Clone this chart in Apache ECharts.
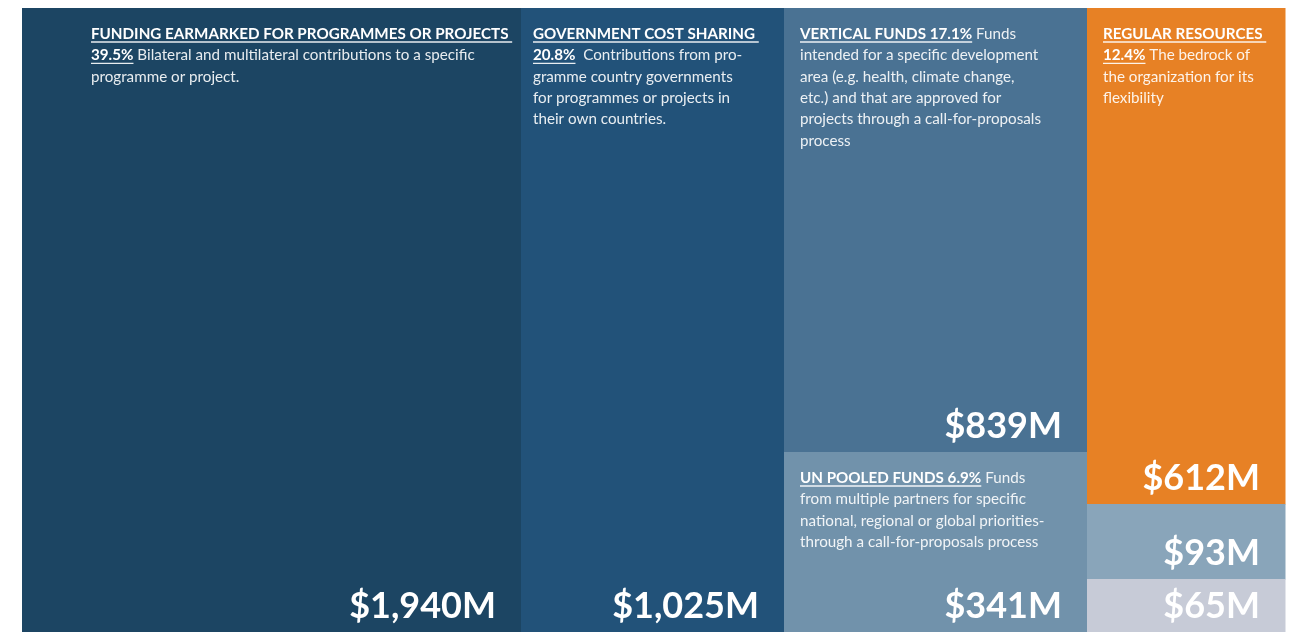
<!DOCTYPE html>
<html>
<head>
<meta charset="utf-8">
<script src="https://cdn.jsdelivr.net/npm/echarts@6/dist/echarts.min.js"></script>
<style>
html, body { margin: 0; padding: 0; background: #fff; }
#chart { width: 1297px; height: 632px; }
</style>
</head>
<body>
<div id="chart"></div>
<script>
// funding blocks, in reading order
const titles = ['FUNDING EARMARKED FOR PROGRAMMES OR PROJECTS', 'GOVERNMENT COST SHARING', 'VERTICAL FUNDS', 'UN POOLED FUNDS', 'REGULAR RESOURCES', '', ''];
const shares = ['39.5%', '20.8%', '17.1%', '6.9%', '12.4%', '', ''];
const amounts = [1940, 1025, 839, 341, 612, 93, 65];
const amountLabels = ['$1,940M', '$1,025M', '$839M', '$341M', '$612M', '$93M', '$65M'];
const columns = [0, 1, 2, 2, 3, 3, 3];
const notes = [
    ['Bilateral and multilateral contributions to a specific', 'programme or project.'],
    [' Contributions from pro-', 'gramme country governments', 'for programmes or projects in', 'their own countries.'],
    ['Funds', 'intended for a specific development', 'area (e.g. health, climate change,', 'etc.) and that are approved for', 'projects through a call-for-proposals', 'process'],
    ['Funds', 'from multiple partners for specific', 'national, regional or global priorities-', 'through a call-for-proposals process'],
    ['The bedrock of', 'the organization for its', 'flexibility'],
    [],
    []
];

// styles
const colors = ['#1c4563', '#225279', '#4a7293', '#7192ab', '#e78125', '#89a5ba', '#c7cbd7'];
const titleInline = [false, false, true, true, false, false, false];
const padLeft = [69, 12, 16, 16, 16, 16, 16];
const FONT = 'Lato, "Open Sans", sans-serif';
const smallSize = 15.2;
const lineStep = 21.4;

// layout: column widths from column totals, rows from share of the column
let colTotals = [];
columns.forEach((c, i) => { colTotals[c] = (colTotals[c] || 0) + amounts[i]; });
let colStart = [];
let acc = 0;
colTotals.forEach((t, c) => { colStart[c] = acc; acc += t; });
const total = acc;
let colUsed = colTotals.map(() => 0);
let cells = amounts.map((v, i) => {
    let c = columns[i];
    let y0 = colUsed[c] / colTotals[c];
    colUsed[c] += v;
    let y1 = colUsed[c] / colTotals[c];
    return [colStart[c], colStart[c] + colTotals[c], y0, y1, i];
});

let measureCtx = document.createElement('canvas').getContext('2d');
function textWidth(t, font) {
    measureCtx.font = font;
    return measureCtx.measureText(t).width;
}

function buildLines(i) {
    if (!titles[i]) return [];
    let n = notes[i];
    let lines = [];
    if (titleInline[i]) {
        lines.push([{t: titles[i] + ' ' + shares[i], b: true, u: true}, {t: ' ' + n[0]}]);
    } else {
        lines.push([{t: titles[i] + ' ', b: true, u: true}]);
        lines.push([{t: shares[i], b: true, u: true}, {t: ' ' + n[0]}]);
    }
    n.slice(1).forEach(s => lines.push([{t: s}]));
    return lines;
}

function renderItem(params, api) {
    let i = api.value(4);
    let p0 = api.coord([api.value(0), api.value(2)]).map(Math.round);
    let p1 = api.coord([api.value(1), api.value(3)]).map(Math.round);
    let children = [{
        type: 'rect',
        shape: {x: p0[0], y: p0[1], width: p1[0] - p0[0] + 0.5, height: p1[1] - p0[1] + 0.5},
        style: {fill: colors[i], lineWidth: 0}
    }];
    buildLines(i).forEach((segs, k) => {
        let x = p0[0] + padLeft[i];
        let y = p0[1] + 26 + k * lineStep;
        segs.forEach(seg => {
            let font = (seg.b ? 'bold ' : '') + smallSize + 'px ' + FONT;
            let w = textWidth(seg.t, font);
            children.push({
                type: 'text',
                x: x,
                y: y,
                z2: 2,
                style: {
                    text: seg.t,
                    font: font,
                    fill: seg.b ? '#ffffff' : 'rgba(255,255,255,0.9)',
                    align: 'left',
                    verticalAlign: 'middle'
                }
            });
            if (seg.u) {
                children.push({
                    type: 'line',
                    z2: 2,
                    shape: {x1: x, y1: y + 8, x2: x + w, y2: y + 8},
                    style: {stroke: 'rgba(255,255,255,0.9)', lineWidth: 1.3}
                });
            }
            x += w;
        });
    });
    children.push({
        type: 'text',
        x: p1[0] - 25,
        y: p1[1] - 8,
        z2: 2,
        style: {
            text: amountLabels[i],
            font: 'bold 36px ' + FONT,
            fill: '#ffffff',
            align: 'right',
            verticalAlign: 'bottom'
        }
    });
    return {type: 'group', children: children};
}

let myChart = echarts.init(document.getElementById('chart'));
myChart.setOption({
    animation: false,
    grid: {left: 22, right: 12, top: 8, bottom: 0},
    xAxis: {type: 'value', min: 0, max: total, show: false},
    yAxis: {type: 'value', min: 0, max: 1, inverse: true, show: false},
    series: [{
        type: 'custom',
        renderItem: renderItem,
        encode: {x: [0, 1], y: [2, 3]},
        data: cells
    }]
});
</script>
</body>
</html>
